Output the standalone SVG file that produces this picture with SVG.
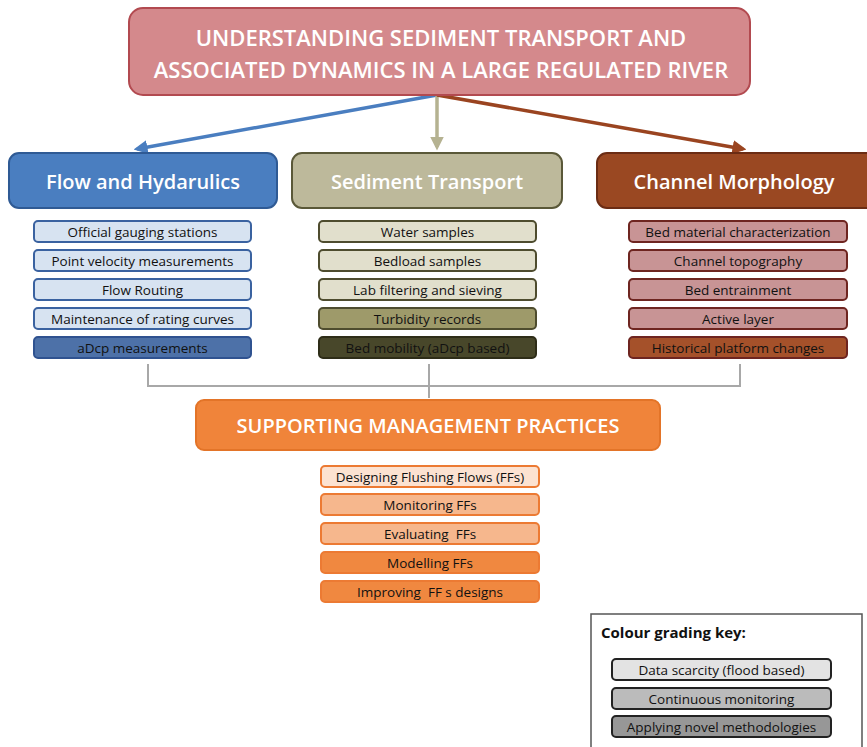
<svg xmlns="http://www.w3.org/2000/svg" width="867" height="747" viewBox="0 0 867 747">
<style>
text{font-family:"Open Sans","Liberation Sans",sans-serif;text-anchor:middle;dominant-baseline:central}
.h{fill:#fff;font-weight:600}
.s{font-size:13.5px;fill:#111;font-weight:500}
.blueL{fill:#D7E3F1;stroke:#3A62A0;stroke-width:2}
.blueD{fill:#4D71A8;stroke:#2F5290;stroke-width:2}
.oliL{fill:#E1DFCC;stroke:#4E4C2E;stroke-width:2}
.oliM{fill:#9E9A6A;stroke:#4E4C2E;stroke-width:2}
.oliD{fill:#48472A;stroke:#2E2D18;stroke-width:2}
.redL{fill:#C89495;stroke:#6E2520;stroke-width:2}
.redD{fill:#A5512A;stroke:#6E2520;stroke-width:2}
.orL{fill:#FCE2D1;stroke:#EC7A33;stroke-width:2}
.orM{fill:#F6B78D;stroke:#EC7A33;stroke-width:2}
.orD{fill:#F08840;stroke:#EC7A33;stroke-width:2}
.conn{fill:none;stroke-width:3.5}
</style>
<defs>
<marker id="mb" markerWidth="4" markerHeight="4" refX="3" refY="2" orient="auto" markerUnits="strokeWidth"><path d="M0,0 L4,2 L0,4 z" fill="#4A7EC0"/></marker>
<marker id="mt" markerWidth="4" markerHeight="4" refX="3" refY="2" orient="auto" markerUnits="strokeWidth"><path d="M0,0 L4,2 L0,4 z" fill="#B5B291"/></marker>
<marker id="mr" markerWidth="4" markerHeight="4" refX="3" refY="2" orient="auto" markerUnits="strokeWidth"><path d="M0,0 L4,2 L0,4 z" fill="#9A4420"/></marker>
</defs>
<rect width="867" height="747" fill="#fff"/>

<g id="connectors">
<line class="conn" x1="437" y1="95" x2="137" y2="149" stroke="#4A7EC0" marker-end="url(#mb)"/>
<line class="conn" x1="437" y1="95" x2="437" y2="147" stroke="#B5B291" marker-end="url(#mt)"/>
<line class="conn" x1="437" y1="95" x2="743" y2="149" stroke="#9A4420" marker-end="url(#mr)"/>
<path d="M148,364 V386 H740 V364 M429,364 V398" fill="none" stroke="#A8A8A8" stroke-width="2"/>
</g>

<g id="title">
<rect x="129" y="8" width="621" height="87" rx="14" fill="#D4898C" stroke="#B24A50" stroke-width="2"/>
<text class="h" x="441" y="37" font-size="22">UNDERSTANDING SEDIMENT TRANSPORT AND</text>
<text class="h" x="441" y="69" font-size="22">ASSOCIATED DYNAMICS IN A LARGE REGULATED RIVER</text>
</g>

<g id="flow">
<rect x="9" y="153" width="268" height="55" rx="10" fill="#4A7EC0" stroke="#2F5A94" stroke-width="2"/>
<text class="h" x="143" y="181" font-size="20">Flow and Hydarulics</text>
</g>
<g id="flow-items">
<rect class="blueL" x="34" y="221" width="217" height="21" rx="4"/><text class="s" x="142.5" y="232">Official gauging stations</text>
<rect class="blueL" x="34" y="250" width="217" height="21" rx="4"/><text class="s" x="142.5" y="261">Point velocity measurements</text>
<rect class="blueL" x="34" y="279" width="217" height="21" rx="4"/><text class="s" x="142.5" y="290">Flow Routing</text>
<rect class="blueL" x="34" y="308" width="217" height="21" rx="4"/><text class="s" x="142.5" y="319">Maintenance of rating curves</text>
<rect class="blueD" x="34" y="337" width="217" height="21" rx="4"/><text class="s" x="142.5" y="348">aDcp measurements</text>
</g>

<g id="sediment">
<rect x="292" y="153" width="270" height="55" rx="10" fill="#BDB99B" stroke="#5A5838" stroke-width="2"/>
<text class="h" x="427" y="181" font-size="20">Sediment Transport</text>
</g>
<g id="sediment-items">
<rect class="oliL" x="319" y="221" width="217" height="21" rx="4"/><text class="s" x="427.5" y="232">Water samples</text>
<rect class="oliL" x="319" y="250" width="217" height="21" rx="4"/><text class="s" x="427.5" y="261">Bedload samples</text>
<rect class="oliL" x="319" y="279" width="217" height="21" rx="4"/><text class="s" x="427.5" y="290">Lab filtering and sieving</text>
<rect class="oliM" x="319" y="308" width="217" height="21" rx="4"/><text class="s" x="427.5" y="319">Turbidity records</text>
<rect class="oliD" x="319" y="337" width="217" height="21" rx="4"/><text class="s" x="427.5" y="348">Bed mobility (aDcp based)</text>
</g>

<g id="channel">
<rect x="597" y="153" width="280" height="55" rx="10" fill="#9A4822" stroke="#6B2C14" stroke-width="2"/>
<text class="h" x="734" y="181" font-size="20">Channel Morphology</text>
</g>
<g id="channel-items">
<rect class="redL" x="629" y="221" width="218" height="21" rx="4"/><text class="s" x="738" y="232">Bed material characterization</text>
<rect class="redL" x="629" y="250" width="218" height="21" rx="4"/><text class="s" x="738" y="261">Channel topography</text>
<rect class="redL" x="629" y="279" width="218" height="21" rx="4"/><text class="s" x="738" y="290">Bed entrainment</text>
<rect class="redL" x="629" y="308" width="218" height="21" rx="4"/><text class="s" x="738" y="319">Active layer</text>
<rect class="redD" x="629" y="337" width="218" height="21" rx="4"/><text class="s" x="738" y="348">Historical platform changes</text>
</g>

<g id="supporting">
<rect x="196" y="400" width="464" height="50" rx="8" fill="#F0843A" stroke="#E37428" stroke-width="2"/>
<text class="h" x="428" y="425" font-size="20">SUPPORTING MANAGEMENT PRACTICES</text>
</g>
<g id="supporting-items">
<rect class="orL" x="321" y="466" width="218" height="21" rx="4"/><text class="s" x="430" y="477">Designing Flushing Flows (FFs)</text>
<rect class="orM" x="321" y="494" width="218" height="21" rx="4"/><text class="s" x="430" y="505">Monitoring FFs</text>
<rect class="orM" x="321" y="523" width="218" height="21" rx="4"/><text class="s" x="430" y="534" xml:space="preserve">Evaluating  FFs</text>
<rect class="orD" x="321" y="552" width="218" height="21" rx="4"/><text class="s" x="430" y="563">Modelling FFs</text>
<rect class="orD" x="321" y="581" width="218" height="21" rx="4"/><text class="s" x="430" y="592" xml:space="preserve">Improving  FF s designs</text>
</g>

<g id="key">
<rect x="591" y="614" width="271" height="134" fill="#fff" stroke="#555" stroke-width="1.5"/>
<text x="601" y="632" font-size="15" font-weight="700" style="text-anchor:start" fill="#111">Colour grading key:</text>
<rect x="612" y="659" width="219" height="21" rx="4" fill="#E3E3E3" stroke="#222" stroke-width="2"/><text class="s" x="721.5" y="670">Data scarcity (flood based)</text>
<rect x="612" y="688" width="219" height="21" rx="4" fill="#BBBBBB" stroke="#222" stroke-width="2"/><text class="s" x="721.5" y="699">Continuous monitoring</text>
<rect x="612" y="716" width="219" height="21" rx="4" fill="#979797" stroke="#222" stroke-width="2"/><text class="s" x="721.5" y="727">Applying novel methodologies</text>
</g>
</svg>
